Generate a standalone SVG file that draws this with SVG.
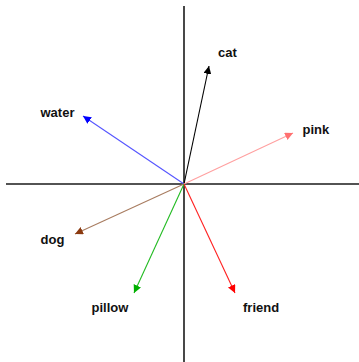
<svg xmlns="http://www.w3.org/2000/svg" width="359" height="362" viewBox="0 0 359 362">
<style>
text{font-family:"Liberation Sans",Arial,sans-serif;font-weight:bold;font-size:13px;fill:#111}
.ax{stroke:#1a1a1a;stroke-width:1.6}
.v{stroke-width:1.1;fill:none}
</style>
<defs>
<marker id="mk" viewBox="0 0 10 10" refX="10" refY="5" markerWidth="8" markerHeight="8" markerUnits="userSpaceOnUse" orient="auto"><path d="M0,0L10,5L0,10z" fill="context-stroke"/></marker>
<marker id="m-black" viewBox="0 0 10 10" refX="10" refY="5" markerWidth="8" markerHeight="8" markerUnits="userSpaceOnUse" orient="auto"><path d="M0,0L10,5L0,10z" fill="#000"/></marker>
<marker id="m-blue" viewBox="0 0 10 10" refX="10" refY="5" markerWidth="8" markerHeight="8" markerUnits="userSpaceOnUse" orient="auto"><path d="M0,0L10,5L0,10z" fill="#0000ff"/></marker>
<marker id="m-pink" viewBox="0 0 10 10" refX="10" refY="5" markerWidth="8" markerHeight="8" markerUnits="userSpaceOnUse" orient="auto"><path d="M0,0L10,5L0,10z" fill="#ff7070"/></marker>
<marker id="m-brown" viewBox="0 0 10 10" refX="10" refY="5" markerWidth="8" markerHeight="8" markerUnits="userSpaceOnUse" orient="auto"><path d="M0,0L10,5L0,10z" fill="#8b3a10"/></marker>
<marker id="m-green" viewBox="0 0 10 10" refX="10" refY="5" markerWidth="8" markerHeight="8" markerUnits="userSpaceOnUse" orient="auto"><path d="M0,0L10,5L0,10z" fill="#00b000"/></marker>
<marker id="m-red" viewBox="0 0 10 10" refX="10" refY="5" markerWidth="8" markerHeight="8" markerUnits="userSpaceOnUse" orient="auto"><path d="M0,0L10,5L0,10z" fill="#ff0000"/></marker>
</defs>
<g id="axes">
<line class="ax" x1="184" y1="6" x2="184" y2="362"/>
<line class="ax" x1="6" y1="184" x2="359" y2="184"/>
</g>
<g id="connectors">
<line class="v" x1="184" y1="184" x2="209" y2="66" stroke="#000" marker-end="url(#m-black)"/>
<line class="v" x1="184" y1="184" x2="83" y2="116" stroke="#5555ff" marker-end="url(#m-blue)"/>
<line class="v" x1="184" y1="184" x2="293" y2="133" stroke="#ffa0a0" marker-end="url(#m-pink)"/>
<line class="v" x1="184" y1="184" x2="75" y2="234" stroke="#a87c60" marker-end="url(#m-brown)"/>
<line class="v" x1="184" y1="184" x2="134" y2="293" stroke="#22bb22" marker-end="url(#m-green)"/>
<line class="v" x1="184" y1="184" x2="235" y2="293" stroke="#ff2020" marker-end="url(#m-red)"/>
</g>
<g id="cat"><text x="218" y="57">cat</text></g>
<g id="water"><text x="40.5" y="117">water</text></g>
<g id="pink"><text x="302.5" y="134">pink</text></g>
<g id="dog"><text x="40.5" y="244">dog</text></g>
<g id="pillow"><text x="91.5" y="311.5">pillow</text></g>
<g id="friend"><text x="243" y="311.5">friend</text></g>
</svg>
